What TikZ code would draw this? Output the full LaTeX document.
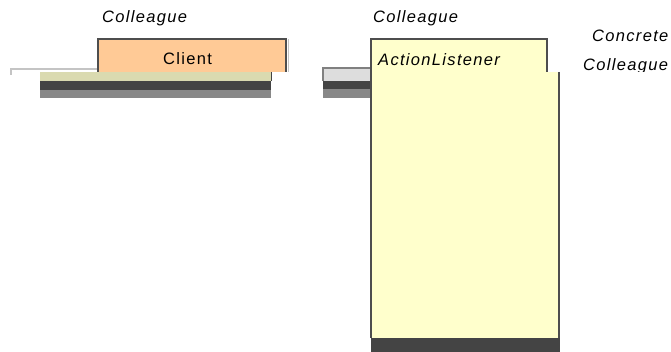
\documentclass[tikz,border=0pt]{standalone}
\usepackage{fontspec}
\newfontfamily\umlfont[LetterSpace=8]{Liberation Sans}
\definecolor{peach}{HTML}{FFCA96}
\definecolor{noteyellow}{HTML}{FFFFCC}
\definecolor{khaki}{HTML}{DADAB0}
\definecolor{darkband}{HTML}{444444}
\definecolor{midband}{HTML}{888888}
\definecolor{paleband}{HTML}{DDDDDD}
\definecolor{edgegray}{HTML}{4E4E4E}
\definecolor{faintline}{HTML}{C4C4C4}
\tikzset{
  box/.style={rectangle, inner sep=0pt, outer sep=0pt, draw=none, anchor=north west},
  edge/.style={draw=edgegray, line width=1.6pt},
  umltext/.style={inner sep=0pt, anchor=base west, font=\umlfont\fontsize{16.5}{19}\selectfont},
}
\begin{document}
\begin{tikzpicture}[x=1pt, y=-1pt]
  \fill[white] (0,0) rectangle (671,352);
  \useasboundingbox (0,0) rectangle (671,352);

  % --- left group: Client ---
  \node[box, minimum width=87pt, minimum height=6pt, fill=white] (stub) at (11,69) {};
  \draw[draw=faintline, line width=1.4pt] (stub.south west) -- (stub.north west) -- (stub.north east);
  \node[box, minimum width=231pt, minimum height=9pt, fill=khaki] (khakiband) at (40,72) {};
  \node[box, minimum width=231pt, minimum height=9pt, fill=darkband] (darkleft) at (40,81) {};
  \node[box, minimum width=231pt, minimum height=8pt, fill=midband] (greyleft) at (40,90) {};
  \draw[darkband, line width=1pt] (khakiband.north east) -- (khakiband.south east);
  \node[box, minimum width=188pt, minimum height=33pt, fill=peach] (client) at (98,39) {};
  \draw[faintline, line width=1pt] ([xshift=2pt]client.north east) -- ([xshift=2pt]client.south east);
  \draw[edge] (client.south west) -- (client.north west) -- (client.north east) -- (client.south east);
  \node[umltext] (clientname) at (163,65) {Client};
  \node[umltext] (stereoleft) at (102,23) {\itshape Colleague};

  % --- right group: ActionListener ---
  \node[box, minimum width=48pt, minimum height=13pt, fill=paleband] (paleright) at (323,68) {};
  \draw[draw=gray, line width=1.2pt] (paleright.south west) -- (paleright.north west) -- (paleright.north east);
  \node[box, minimum width=48pt, minimum height=8pt, fill=darkband] (darkright) at (323,81) {};
  \node[box, minimum width=48pt, minimum height=9pt, fill=midband] (greyright) at (323,89) {};
  \node[box, minimum width=176pt, minimum height=33pt, fill=noteyellow] (listener) at (371,39) {};
  \node[box, minimum width=188pt, minimum height=266pt, fill=noteyellow] (listenerbody) at (371,72) {};
  \node[box, minimum width=189pt, minimum height=14pt, fill=darkband] (basebar) at (371,338) {};
  \draw[edge] (listener.south west) -- (listener.north west) -- (listener.north east) -- (listener.south east);
  \draw[edge] (listenerbody.north west) -- (listenerbody.south west);
  \draw[edge] (listenerbody.north east) -- (listenerbody.south east);
  \node[umltext] (listenername) at (378,66) {\itshape ActionListener};
  \node[umltext] (stereoright) at (373,23) {\itshape Colleague};

  % --- side label, cut off along its lower edge ---
  \node[umltext] (concrete) at (592,42) {\itshape Concrete};
  \begin{scope}
    \clip (575,0) rectangle (671,72);
    \node[umltext] (colleaguecut) at (583,71) {\itshape Colleague};
  \end{scope}
\end{tikzpicture}
\end{document}
